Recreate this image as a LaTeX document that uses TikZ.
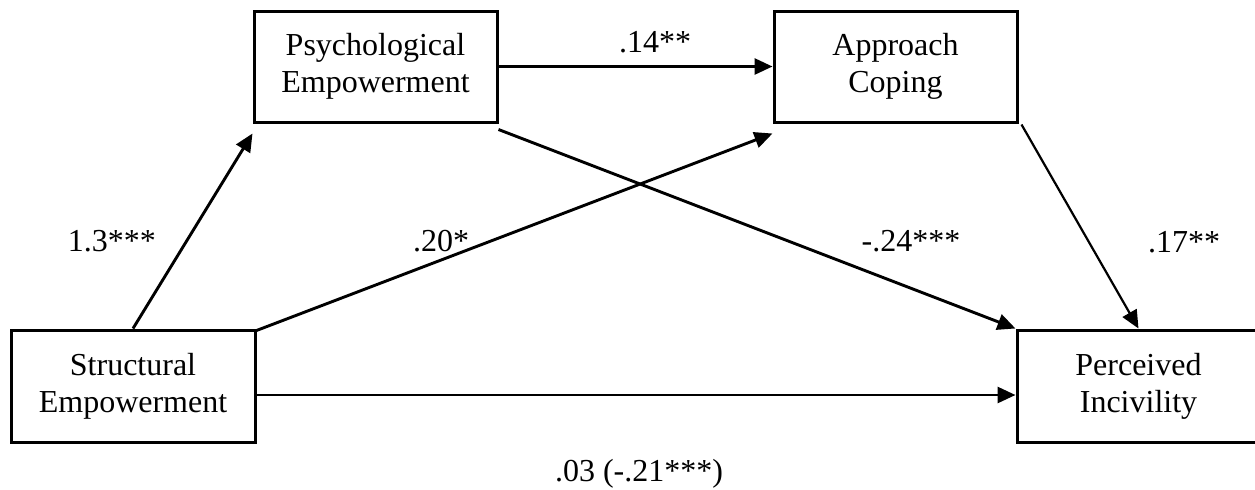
\documentclass[tikz,border=0pt]{standalone}
\usepackage{fontspec}
\setmainfont{Liberation Serif}
\usetikzlibrary{arrows.meta,calc}
\begin{document}
\begin{tikzpicture}[x=0.5pt,y=-0.5pt,
  every node/.style={font=\fontsize{16pt}{18.5pt}\selectfont},
  varbox/.style={draw=black,line width=1.5pt,rectangle,inner sep=0pt,
    minimum width=121.5pt,minimum height=55.5pt,align=center},
  coef/.style={anchor=base,inner sep=0pt},
  path/.style={line width=1.45pt,-{Triangle[length=9pt,width=8pt]}},
  thinpath/.style={line width=1.1pt,-{Triangle[length=9pt,width=8pt]}}]
\clip (0,0) rectangle (1255,489);
\fill[white] (0,0) rectangle (1255,489);
\node[varbox] (psych) at (375.5,66.5) {Psychological\\Empowerment};
\node[varbox] (appr) at (895.5,66.5) {Approach\\Coping};
\node[varbox,minimum width=122pt,minimum height=56pt] (struct) at (133,386) {Structural\\Empowerment};
\node[varbox,minimum height=56pt] (perc) at (1138.5,386) {Perceived\\Incivility};
\draw[path] (psych.east) -- (appr.west);
\draw[path] (struct.north) -- ($(psych.south west)+(0,10)$);
\draw[path] ($(struct.north east)+(0,2)$) -- ($(appr.south west)+(0,10)$);
\draw[path] ($(psych.south east)+(0,6)$) -- (perc.north west);
\draw[thinpath] ($(appr.south east)+(3,1)$) -- (perc.north);
\draw[path] ($(struct.east)+(0,9)$) -- ($(perc.west)+(0,9)$);
\node[coef] (l1) at (655,52) {.14**};
\node[coef] (l2) at (112,251) {1.3***};
\node[coef] (l3) at (441,251) {.20*};
\node[coef] (l4) at (911,251) {-.24***};
\node[coef] (l5) at (1184,252) {.17**};
\node[coef] (l6) at (639,481) {.03 (-.21***)};
\end{tikzpicture}
\end{document}
